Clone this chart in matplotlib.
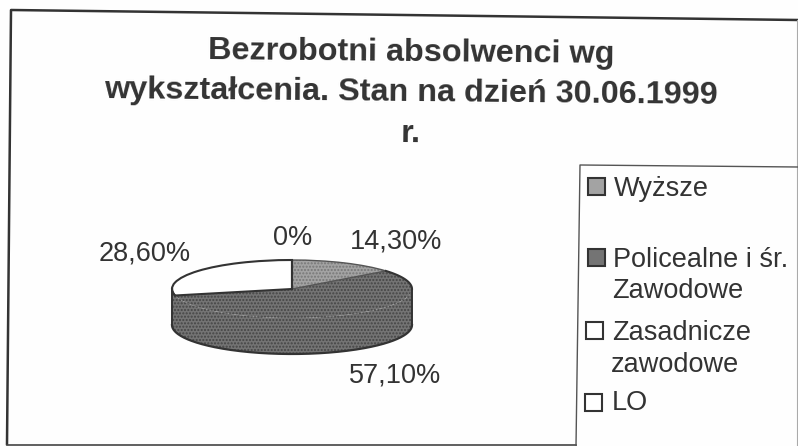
import matplotlib
matplotlib.use('Agg')
import matplotlib.pyplot as plt
from matplotlib.patches import Rectangle
import numpy as np

plt.rcParams['font.family'] = ['Liberation Sans', 'DejaVu Sans']

title_lines = ['Bezrobotni absolwenci wg', 'wykształcenia. Stan na dzień 30.06.1999', 'r.']
categories = ['Wyższe', 'Policealne i śr.\nZawodowe', 'Zasadnicze\nzawodowe', 'LO']
values = [14.3, 57.1, 28.6, 0.0]
value_labels = ['14,30%', '57,10%', '28,60%', '0%']

W, H = 798, 446
INK = '#333333'
colors = ['#a3a3a3', '#747474', '#ffffff', '#ffffff']

fig = plt.figure(figsize=(W / 100, H / 100), dpi=100, facecolor='#fefefe')

# page overlay in pixel coordinates
bg = fig.add_axes([0, 0, 1, 1])
bg.set_xlim(0, W)
bg.set_ylim(H, 0)
bg.axis('off')

# scanned frame, slightly skewed
bg.plot([798, 11, 7], [20, 10, 444], color='#333333', lw=1.8)
bg.plot([7, 576], [444.5, 444.5], color='#444444', lw=1.2)
bg.plot([797, 797], [20, 446], color='#aaaaaa', lw=0.8)
bg.plot([798, 580, 576], [167, 165, 446], color='#555555', lw=1.0)

# the scan is tilted a little, the title shows it most
for line, y in zip(title_lines, [61, 101, 142]):
    bg.text(411, y, line, ha='center', va='baseline', fontsize=23.3, fontweight='bold',
            color=INK, rotation=-0.55, rotation_mode='anchor')

# pie: 120 px per unit across, 29 px per unit down, so the circle reads as a flat ellipse
cx, cy, rx, ry = 292, 289, 120, 29
depth = 36 / ry
pie_ax = fig.add_axes([(cx - 1.05 * rx) / W, 1 - (cy + 3.0 * ry) / H, 2.1 * rx / W, 4.5 * ry / H])
shares = np.array(values)
edges = np.cumsum(shares) / shares.sum() * 360

# side wall, only the front half shows
theta = np.radians(np.linspace(90, 270, 300))
pie_ax.fill_between(np.sin(theta), np.cos(theta), np.cos(theta) - depth,
                    facecolor=colors[1], edgecolor='#444444', hatch='.....', lw=0)
pie_ax.plot(np.sin(theta), np.cos(theta) - depth, color=INK, lw=1.6)
pie_ax.plot([1, 1], [0, -depth], color=INK, lw=1.4)
pie_ax.plot([-1, -1], [0, -depth], color=INK, lw=1.4)

wedges, _ = pie_ax.pie(values, colors=colors, startangle=90, counterclock=False, radius=1,
                       wedgeprops={'linewidth': 0})
wedges[0].set_hatch('.....')
wedges[0].set_edgecolor('#777777')
wedges[1].set_hatch('.....')
wedges[1].set_edgecolor('#444444')

# outlines of the back slices, the dark slice runs into its wall without one
outlines, _ = pie_ax.pie(values, colors=['none'] * 4, startangle=90, counterclock=False, radius=1,
                         wedgeprops={'edgecolor': INK, 'linewidth': 1.5})
outlines[1].set_edgecolor('none')
outlines[0].set_edgecolor('#555555')
outlines[0].set_linewidth(1.0)

# back rim of the dark slice
theta = np.radians(np.linspace(edges[0], 90, 40))
pie_ax.plot(np.sin(theta), np.cos(theta), color=INK, lw=1.5)
theta = np.radians(np.linspace(edges[1], 270, 20))
pie_ax.plot(np.sin(theta), np.cos(theta), color=INK, lw=1.5)

pie_ax.set_aspect('auto')
pie_ax.set_xlim(-1.05, 1.05)
pie_ax.set_ylim(-3.0, 1.5)
pie_ax.axis('off')

# value labels
label_pos = [(396, 249), (395, 383), (145, 261), (293, 245)]
for txt, (x, y) in zip(value_labels, label_pos):
    bg.text(x, y, txt, ha='center', va='baseline', fontsize=19.5, color=INK)

# legend
key_boxes = [(588, 178), (588, 249), (586, 322), (585, 394)]
text_y = [196, 267, 340, 410]
text_x = [614, 613, 612, 612]
for name, c, (kx, ky), tx, ty in zip(categories, colors, key_boxes, text_x, text_y):
    bg.add_patch(Rectangle((kx, ky), 17, 17, facecolor=c, edgecolor=INK, lw=1.5))
    for i, part in enumerate(name.split('\n')):
        bg.text(tx - i, ty + i * 31.5, part, ha='left', va='baseline', fontsize=19.5, color=INK)

fig.savefig('out.png', dpi=100, facecolor=fig.get_facecolor())
